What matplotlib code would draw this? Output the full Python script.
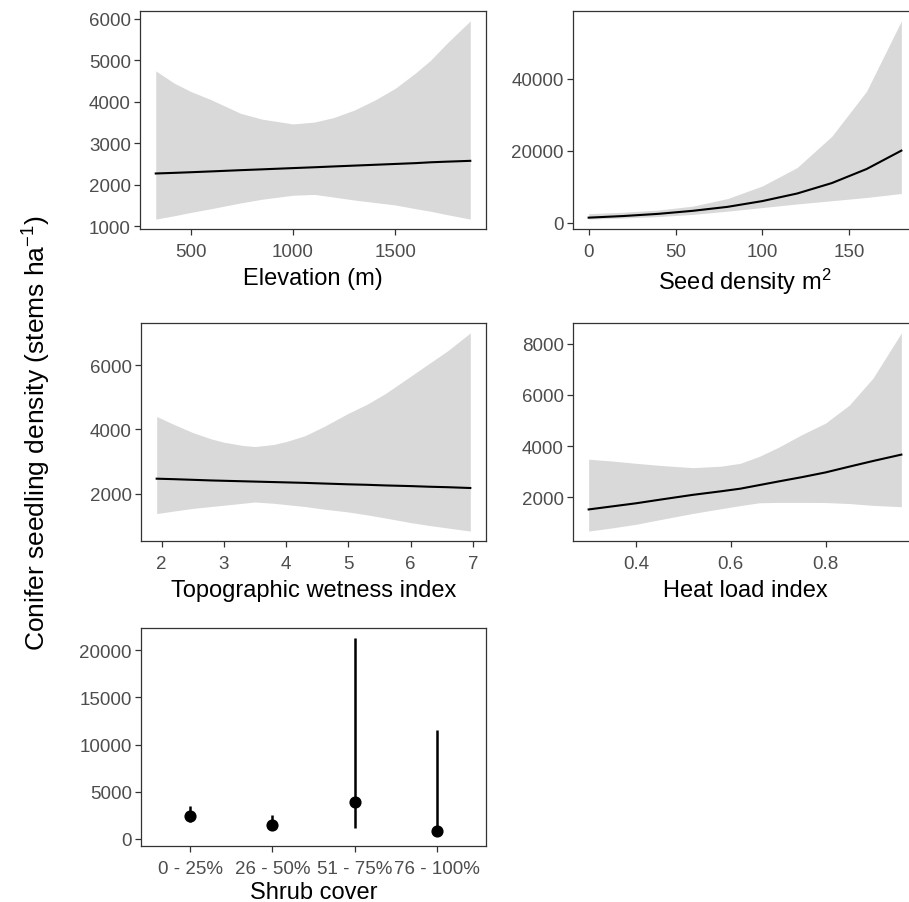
"""Conifer seedling density partial-effect panels (ggplot-like layout)."""
import matplotlib

matplotlib.use("Agg")
import matplotlib.pyplot as plt

BAND = "#D9D9D9"
FRAME = "#333333"
TICKTXT = "#4D4D4D"

plt.rcParams.update({
    "font.family": ["Liberation Sans", "DejaVu Sans"],
    "mathtext.fontset": "custom",
    "mathtext.rm": "Liberation Sans",
    "mathtext.it": "Liberation Sans:italic",
    "mathtext.bf": "Liberation Sans:bold",
    "font.size": 12,
})

# Elevation (m)
elev_x = [330, 420, 500, 600, 745, 850, 1000, 1105, 1200, 1300, 1400, 1500,
          1600, 1672, 1750, 1866]
elev_fit = [2270, 2285, 2300, 2320, 2350, 2370, 2400, 2420, 2440, 2460, 2480,
            2500, 2520, 2540, 2555, 2575]
elev_lo = [1170, 1250, 1330, 1420, 1560, 1650, 1745, 1765, 1700, 1630, 1570,
           1510, 1420, 1360, 1280, 1170]
elev_hi = [4745, 4450, 4250, 4050, 3720, 3580, 3465, 3510, 3620, 3800, 4040,
           4325, 4700, 5000, 5400, 5950]

# Seed density m2
seed_x = [0, 20, 40, 60, 80, 100, 120, 140, 160, 180]
seed_fit = [1400, 1850, 2450, 3300, 4400, 6000, 8100, 11000, 14900, 20000]
seed_lo = [1000, 1300, 1700, 2300, 3200, 4200, 5200, 6100, 7000, 8100]
seed_hi = [2500, 2900, 3500, 4600, 6700, 10200, 15300, 24000, 36500, 56000]

# Topographic wetness index
twi_x = [1.92, 2.2, 2.5, 2.8, 3.0, 3.3, 3.5, 3.8, 4.0, 4.3, 4.6, 5.0, 5.3,
         5.6, 6.0, 6.3, 6.6, 6.96]
twi_fit = [2465, 2450, 2430, 2410, 2400, 2385, 2375, 2360, 2350, 2335, 2315,
           2290, 2275, 2255, 2235, 2215, 2200, 2175]
twi_lo = [1380, 1460, 1540, 1600, 1640, 1700, 1740, 1700, 1660, 1600, 1520,
          1430, 1340, 1240, 1100, 1010, 930, 835]
twi_hi = [4400, 4150, 3900, 3700, 3600, 3500, 3465, 3530, 3620, 3800, 4080,
          4500, 4780, 5120, 5650, 6050, 6450, 7000]

# Heat load index
hli_x = [0.30, 0.35, 0.40, 0.45, 0.52, 0.58, 0.62, 0.66, 0.70, 0.75, 0.80,
         0.85, 0.90, 0.96]
hli_fit = [1530, 1650, 1770, 1910, 2100, 2240, 2340, 2480, 2620, 2790, 2975,
           3200, 3420, 3670]
hli_lo = [685, 810, 950, 1130, 1375, 1560, 1680, 1790, 1805, 1805, 1800,
          1760, 1690, 1635]
hli_hi = [3490, 3420, 3330, 3250, 3160, 3220, 3330, 3600, 3950, 4450, 4900,
          5600, 6650, 8420]

# Shrub cover
shrub_cats = ["0 - 25%", "26 - 50%", "51 - 75%", "76 - 100%"]
shrub_fit = [2410, 1420, 3940, 815]
shrub_lo = [1810, 1100, 1100, 285]
shrub_hi = [3475, 2480, 21310, 11490]

W, H = 909, 903


def box(x0, y0, x1, y1):
    return [x0 / W, 1 - y1 / H, (x1 - x0) / W, (y1 - y0) / H]


def style(ax, xlabel, labelpad=5):
    for s in ax.spines.values():
        s.set_color(FRAME)
        s.set_linewidth(0.9)
    ax.tick_params(colors=FRAME, labelcolor=TICKTXT, length=4, width=0.9,
                   labelsize=13.5)
    ax.tick_params(axis="x", pad=6)
    ax.tick_params(axis="y", pad=2.5)
    ax.set_xlabel(xlabel, fontsize=17, color="black", labelpad=labelpad)


def smooth_panel(ax, x, fit, lo, hi, xlabel, labelpad=5):
    ax.fill_between(x, lo, hi, color=BAND, lw=0)
    ax.plot(x, fit, color="black", lw=1.5)
    xr = max(x) - min(x)
    ax.set_xlim(min(x) - 0.05 * xr, max(x) + 0.05 * xr)
    yr = max(hi) - min(lo)
    ax.set_ylim(min(lo) - 0.05 * yr, max(hi) + 0.05 * yr)
    style(ax, xlabel, labelpad)


fig = plt.figure(figsize=(W / 100, H / 100), dpi=100)

ax1 = fig.add_axes(box(140, 12, 486, 230))
smooth_panel(ax1, elev_x, elev_fit, elev_lo, elev_hi, "Elevation (m)")
ax1.set_xticks([500, 1000, 1500])
ax1.set_yticks([1000, 2000, 3000, 4000, 5000, 6000])

ax2 = fig.add_axes(box(573, 12, 917, 230))
smooth_panel(ax2, seed_x, seed_fit, seed_lo, seed_hi, "Seed density m$^2$",
             labelpad=4)
ax2.set_xticks([0, 50, 100, 150])
ax2.set_yticks([0, 20000, 40000])

ax3 = fig.add_axes(box(141, 324, 486, 542))
smooth_panel(ax3, twi_x, twi_fit, twi_lo, twi_hi, "Topographic wetness index")
ax3.set_xticks([2, 3, 4, 5, 6, 7])
ax3.set_yticks([2000, 4000, 6000])

ax4 = fig.add_axes(box(573, 324, 917, 542))
smooth_panel(ax4, hli_x, hli_fit, hli_lo, hli_hi, "Heat load index")
ax4.set_xticks([0.4, 0.6, 0.8])
ax4.set_yticks([2000, 4000, 6000, 8000])

ax5 = fig.add_axes(box(141, 629, 486, 847))
pos = list(range(1, len(shrub_cats) + 1))
ax5.vlines(pos, shrub_lo, shrub_hi, color="black", lw=1.8)
ax5.scatter(pos, shrub_fit, s=60, color="black", zorder=3)
ax5.set_xlim(0.4, len(shrub_cats) + 0.6)
yr = max(shrub_hi) - min(shrub_lo)
ax5.set_ylim(min(shrub_lo) - 0.05 * yr, max(shrub_hi) + 0.05 * yr)
ax5.set_xticks(pos)
ax5.set_xticklabels(shrub_cats)
ax5.set_yticks([0, 5000, 10000, 15000, 20000])
style(ax5, "Shrub cover", labelpad=3)

fig.text(37 / W, 1 - 433 / H, "Conifer seedling density (stems ha$^{-1}$)",
         rotation=90, ha="center", va="center", fontsize=19)

fig.savefig("out.png", dpi=100)
